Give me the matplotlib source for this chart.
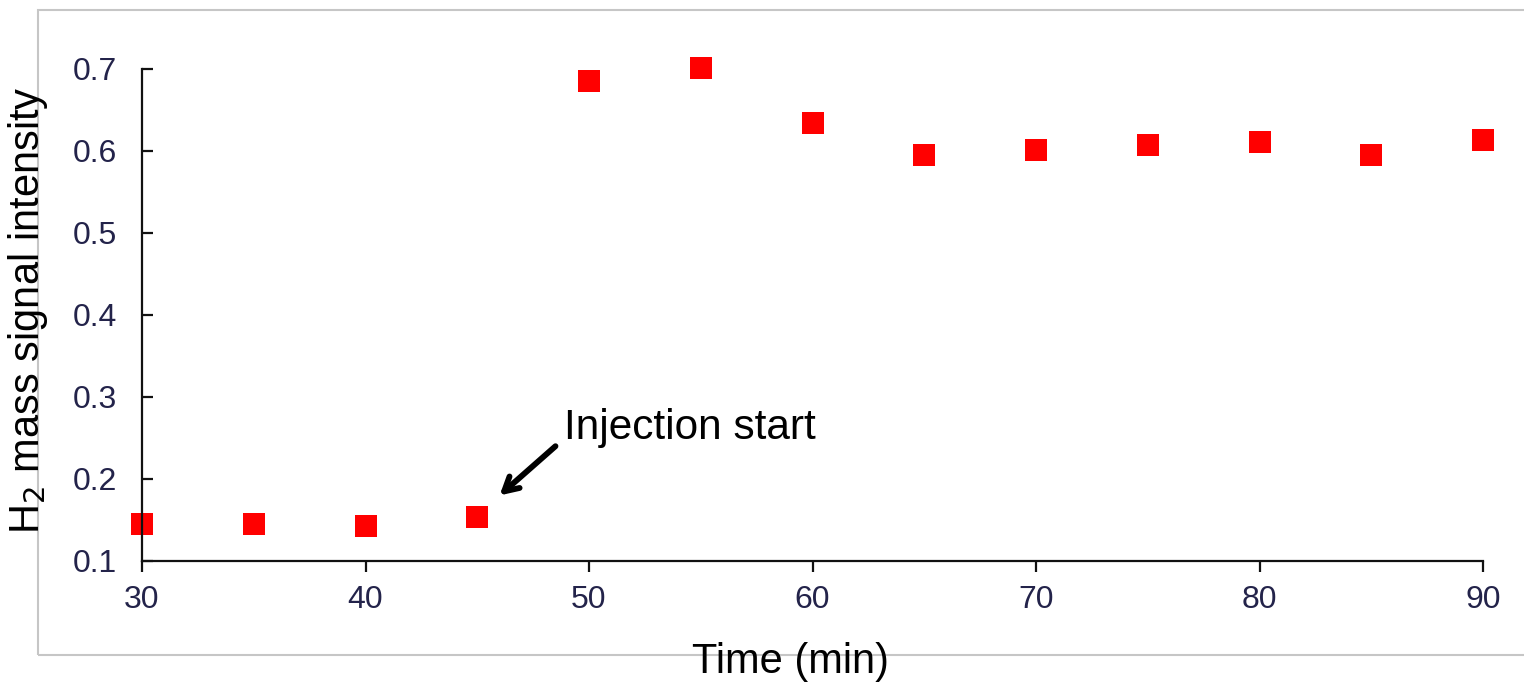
import matplotlib
matplotlib.use("Agg")
import matplotlib.pyplot as plt
from matplotlib.patches import Rectangle

time_min = [30, 35, 40, 45, 50, 55, 60, 65, 70, 75, 80, 85, 90]
h2_signal = [0.145, 0.145, 0.143, 0.154, 0.685, 0.701, 0.634, 0.595, 0.601, 0.607, 0.611, 0.595, 0.613]
x_ticks = [30, 40, 50, 60, 70, 80, 90]
y_ticks = [0.1, 0.2, 0.3, 0.4, 0.5, 0.6, 0.7]

plt.rcParams['font.family'] = ['Liberation Sans', 'DejaVu Sans']

W, H = 1524, 684
fig = plt.figure(figsize=(W / 100, H / 100), dpi=100)

# outer frame
fig.patches.append(Rectangle((38 / W, 1 - 655 / H), (W + 10 - 38) / W, (655 - 10) / H,
                             transform=fig.transFigure, fill=False,
                             edgecolor='#c6c6c6', linewidth=1.5, zorder=0))

ax = fig.add_axes([142 / W, 1 - 561 / H, (1483 - 142) / W, (561 - 69) / H])
ax.set_facecolor('none')
ax.plot(time_min, h2_signal, linestyle='none', marker='s', markersize=15.5,
        color='#ff0000', markeredgewidth=0, clip_on=False, zorder=2)

ax.set_xlim(30, 90)
ax.set_ylim(0.1, 0.7)
ax.set_xticks(x_ticks)
ax.set_yticks(y_ticks)
ax.set_yticklabels([f"{v:.1f}" for v in y_ticks])

for s in ['top', 'right']:
    ax.spines[s].set_visible(False)
for s in ['left', 'bottom']:
    ax.spines[s].set_linewidth(1.6)
    ax.spines[s].set_color('#111111')

ax.tick_params(axis='x', direction='out', length=8, width=1.6, color='#111111',
               labelsize=23, labelcolor='#23234a', pad=9)
ax.tick_params(axis='y', direction='in', length=8, width=1.6, color='#111111',
               labelsize=23, labelcolor='#23234a', pad=18)

fig.text(790 / W, 1 - 662 / H, 'Time (min)', fontsize=30, ha='center', va='center')
fig.text(28 / W, 1 - 310 / H, 'H$_2$ mass signal intensity', fontsize=30,
         rotation=90, ha='center', va='center')

ax.annotate('', xy=(46.0, 0.180), xytext=(48.5, 0.240),
            arrowprops=dict(arrowstyle='->,head_length=1.0,head_width=0.55',
                            lw=4.2, color='black', shrinkA=0, shrinkB=0))
ax.text(48.9, 0.262, 'Injection start', fontsize=30.5, ha='left', va='center')

fig.savefig('out.png', dpi=100)
